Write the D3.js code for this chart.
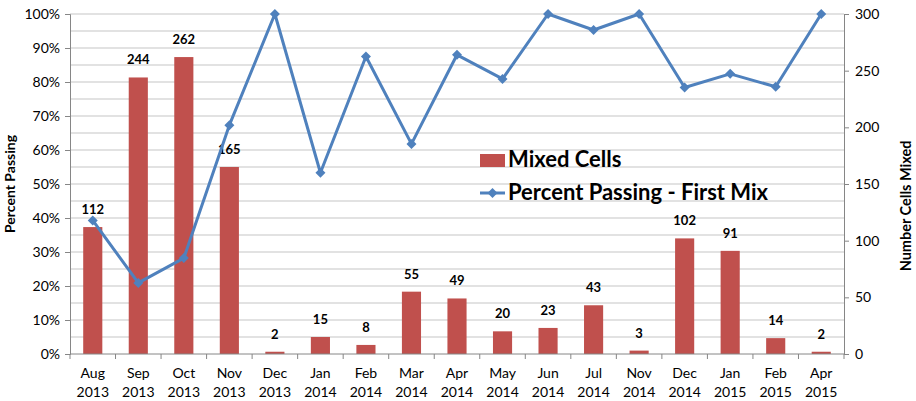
<!DOCTYPE html>
<html>
<head>
<meta charset="utf-8">
<script src="https://cdn.jsdelivr.net/npm/d3@7"></script>
<style>
  html, body { margin: 0; padding: 0; background: #fff; }
  svg { display: block; font-family: Lato, "Open Sans", sans-serif; }
</style>
</head>
<body>
<svg id="chart" width="916" height="401"></svg>
<script>
// Monthly mixing results
const months = ["Aug", "Sep", "Oct", "Nov", "Dec", "Jan", "Feb", "Mar", "Apr",
                "May", "Jun", "Jul", "Nov", "Dec", "Jan", "Feb", "Apr"];
const years  = ["2013", "2013", "2013", "2013", "2013", "2014", "2014", "2014", "2014",
                "2014", "2014", "2014", "2014", "2014", "2015", "2015", "2015"];
const mixedCells = [112, 244, 262, 165, 2, 15, 8, 55, 49, 20, 23, 43, 3, 102, 91, 14, 2];
const percentPassing = [39.3, 20.9, 28.2, 67.3, 100, 53.3, 87.5, 61.8, 88.0,
                        80.9, 100, 95.3, 100, 78.4, 82.4, 78.6, 100];
const leftTicks = [0, 10, 20, 30, 40, 50, 60, 70, 80, 90, 100];
const rightTicks = [0, 50, 100, 150, 200, 250, 300];
const gridSteps = d3.range(0, 101, 5);

const svg = d3.select("#chart");
const m = { left: 70, right: 844, top: 14, bottom: 354 };
const cats = months.map((d, i) => i);

const x = d3.scaleBand().domain(cats).range([m.left, m.right]).paddingInner(0.58).paddingOuter(0.29);
const xb = d3.scaleBand().domain(cats).range([m.left, m.right]);
const yL = d3.scaleLinear().domain([0, 100]).range([m.bottom, m.top]);
const yR = d3.scaleLinear().domain([0, 300]).range([m.bottom, m.top]);
const cx = i => xb(i) + xb.bandwidth() / 2;

// horizontal gridlines every 5%
svg.append("g").selectAll("line").data(gridSteps.filter(d => d > 0)).join("line")
  .attr("x1", m.left).attr("x2", m.right)
  .attr("y1", d => yL(d)).attr("y2", d => yL(d))
  .attr("stroke", "#d9d9d9").attr("stroke-width", 1.5);

// bars
svg.append("g").selectAll("rect").data(mixedCells).join("rect")
  .attr("x", (d, i) => x(i))
  .attr("width", x.bandwidth())
  .attr("y", d => yR(d))
  .attr("height", d => yR(0) - yR(d))
  .attr("fill", "#C0504D");

// bar value labels
svg.append("g").selectAll("text").data(mixedCells).join("text")
  .attr("x", (d, i) => cx(i))
  .attr("y", d => yR(d) - 13)
  .attr("text-anchor", "middle")
  .attr("font-size", 13).attr("font-weight", "bold").attr("fill", "#000")
  .text(d => d);

// left axis
const axL = svg.append("g").attr("transform", `translate(${m.left},0)`)
  .call(d3.axisLeft(yL).tickValues(leftTicks).tickFormat(d => d + "%").tickSize(5).tickPadding(5));
// right axis
const axR = svg.append("g").attr("transform", `translate(${m.right},0)`)
  .call(d3.axisRight(yR).tickValues(rightTicks).tickSize(5).tickPadding(6));
// bottom axis with ticks between categories
const axB = svg.append("g").attr("transform", `translate(0,${m.bottom})`);
axB.append("line").attr("x1", m.left).attr("x2", m.right).attr("y1", 0).attr("y2", 0)
  .attr("stroke", "#868686");
axB.selectAll("line.tk").data(d3.range(cats.length + 1)).join("line").attr("class", "tk")
  .attr("x1", i => m.left + i * xb.bandwidth()).attr("x2", i => m.left + i * xb.bandwidth())
  .attr("y1", 0).attr("y2", 5).attr("stroke", "#868686");
const xl = axB.selectAll("text").data(cats).join("text")
  .attr("text-anchor", "middle").attr("font-size", 14).attr("fill", "#000")
  .attr("x", cx);
xl.append("tspan").attr("x", cx).attr("y", 24).text(i => months[i]);
xl.append("tspan").attr("x", cx).attr("y", 43).text(i => years[i]);

[axL, axR].forEach(a => {
  a.select(".domain").attr("stroke", "#868686");
  a.selectAll(".tick line").attr("stroke", "#868686");
  a.selectAll(".tick text").attr("font-size", 14).attr("fill", "#000")
    .attr("font-family", "Lato, 'Open Sans', sans-serif");
});

// line series
const line = d3.line().x((d, i) => cx(i)).y(d => yL(d));
svg.append("path").datum(percentPassing)
  .attr("d", line).attr("fill", "none").attr("stroke", "#4F81BD")
  .attr("stroke-width", 3).attr("stroke-linejoin", "round");
const diamond = d3.symbol().type(d3.symbolSquare).size(50);
svg.append("g").selectAll("path").data(percentPassing).join("path")
  .attr("d", diamond)
  .attr("transform", (d, i) => `translate(${cx(i)},${yL(d)}) rotate(45)`)
  .attr("fill", "#4F81BD");

// axis titles
svg.append("text").attr("transform", "translate(15,184) rotate(-90)")
  .attr("text-anchor", "middle").attr("font-size", 14).attr("font-weight", "bold")
  .text("Percent Passing");
svg.append("text").attr("transform", "translate(911,206) rotate(-90)")
  .attr("text-anchor", "middle").attr("font-size", 14.5).attr("font-weight", "bold")
  .text("Number Cells Mixed");

// legend
const lg = svg.append("g");
lg.append("rect").attr("x", 480).attr("y", 154).attr("width", 25).attr("height", 13).attr("fill", "#C0504D");
lg.append("text").attr("x", 508).attr("y", 167).attr("font-size", 22).attr("font-weight", "bold")
  .text("Mixed Cells");
lg.append("line").attr("x1", 480).attr("x2", 505).attr("y1", 193).attr("y2", 193)
  .attr("stroke", "#4F81BD").attr("stroke-width", 3);
lg.append("path").attr("d", diamond).attr("transform", "translate(492.5,193) rotate(45)").attr("fill", "#4F81BD");
lg.append("text").attr("x", 508).attr("y", 200).attr("font-size", 22).attr("font-weight", "bold")
  .text("Percent Passing - First Mix");
</script>
</body>
</html>
